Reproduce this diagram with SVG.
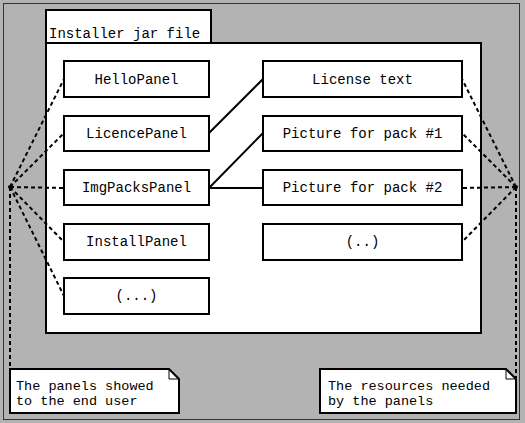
<svg xmlns="http://www.w3.org/2000/svg" width="525" height="423" viewBox="0 0 525 423">
<style>
.box{fill:#fff;stroke:#000;stroke-width:2}
.t{font-family:"Liberation Mono","DejaVu Sans Mono",monospace;font-size:14px;fill:#000}
.n{font-size:13.5px}
.c{text-anchor:middle}
.dot{fill:none;stroke:#000;stroke-width:2;stroke-dasharray:4,3}
.sol{fill:none;stroke:#000;stroke-width:2}
</style>
<rect x="0" y="0" width="525" height="423" fill="#b3b3b3"/>
<rect x="3.5" y="3.5" width="516" height="416" fill="none" stroke="#333" stroke-width="1"/>
<g id="container">
<rect class="box" x="46" y="10" width="165" height="33"/>
<text class="t" x="49" y="38">Installer jar file</text>
<rect class="box" x="46" y="43" width="435" height="290"/>
</g>
<g id="connectors">
<path class="dot" d="M10,187 L64,79 M10,187 L64,133 M10,187 L64,188 M10,187 L64,242 M10,187 L64,296 M10,187 L10,369"/>
<path class="dot" d="M516,187 L462,79 M516,187 L462,133 M516,187 L462,188 M516,187 L462,242 M516,187 L516,378"/>
<path class="sol" d="M209,133 L263,79 M209,188 L263,133 M209,188 L263,188"/>
</g>
<g id="HelloPanel"><rect class="box" x="64" y="61" width="145" height="36"/><text class="t c" x="136.5" y="84">HelloPanel</text></g>
<g id="LicencePanel"><rect class="box" x="64" y="116" width="145" height="35"/><text class="t c" x="136.5" y="138">LicencePanel</text></g>
<g id="ImgPacksPanel"><rect class="box" x="64" y="170" width="145" height="35"/><text class="t c" x="136.5" y="192">ImgPacksPanel</text></g>
<g id="InstallPanel"><rect class="box" x="64" y="224" width="145" height="36"/><text class="t c" x="136.5" y="246">InstallPanel</text></g>
<g id="MorePanels"><rect class="box" x="64" y="278" width="145" height="36"/><text class="t c" x="136.5" y="300">(...)</text></g>
<g id="LicenseText"><rect class="box" x="263" y="61" width="199" height="36"/><text class="t c" x="362.5" y="84">License text</text></g>
<g id="Picture1"><rect class="box" x="263" y="116" width="199" height="35"/><text class="t c" x="362.5" y="138">Picture for pack #1</text></g>
<g id="Picture2"><rect class="box" x="263" y="170" width="199" height="35"/><text class="t c" x="362.5" y="192">Picture for pack #2</text></g>
<g id="MoreResources"><rect class="box" x="263" y="224" width="199" height="36"/><text class="t c" x="362.5" y="246">(..)</text></g>
<g id="NotePanels">
<path class="box" d="M10,369 L169,369 L179,379 L179,413 L10,413 Z"/>
<path fill="none" stroke="#000" stroke-width="1" d="M169,369 L169,379 L179,379"/>
<text class="t n" x="16" y="390">The panels showed</text>
<text class="t n" x="16" y="405">to the end user</text>
</g>
<g id="NoteResources">
<path class="box" d="M320,369 L506,369 L516,379 L516,413 L320,413 Z"/>
<path fill="none" stroke="#000" stroke-width="1" d="M506,369 L506,379 L516,379"/>
<text class="t n" x="328" y="390">The resources needed</text>
<text class="t n" x="328" y="405">by the panels</text>
</g>
<circle cx="10" cy="187" r="2" fill="#000"/>
<circle cx="516" cy="187" r="2" fill="#000"/>
</svg>
